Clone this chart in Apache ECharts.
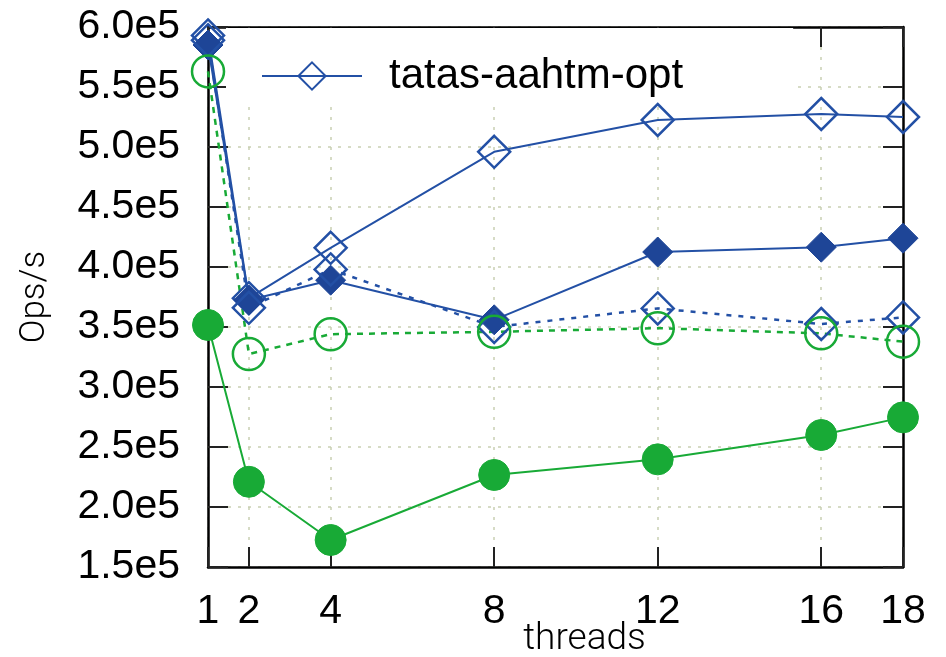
<!DOCTYPE html>
<html>
<head>
<meta charset="utf-8">
<script src="https://cdn.jsdelivr.net/npm/echarts@6/dist/echarts.min.js"></script>
<style>
  html, body { margin: 0; padding: 0; background: #fff; }
  #chart { width: 946px; height: 657px; }
</style>
</head>
<body>
<div id="chart"></div>
<script>
// x ticks (threads) and the five curves
const threads = [1, 2, 4, 8, 12, 16, 18];
const aahtmOpt = [593000, 374000, 416000, 496000, 522500, 527500, 525000];
const blueFilled = [585000, 372500, 389000, 356000, 412500, 416500, 424000];
const blueDashed = [589000, 366000, 398000, 350000, 365500, 352500, 358000];
const greenDashed = [563000, 327500, 344000, 346000, 349000, 344700, 337800];
const greenFilled = [351700, 221000, 172500, 226700, 239700, 260000, 274700];

const blue = '#2350a5';
const green = '#18aa36';
const font = '"Liberation Sans", Arial, sans-serif';
const thinFont = 'Roboto, "Noto Sans", sans-serif';

const pairs = (vals) => threads.map((t, i) => [t, vals[i]]);

const chart = echarts.init(document.getElementById('chart'));

const frameStyle = { lineStyle: { color: '#000', width: 2.5 } };
const tickStyle = { show: true, inside: true, length: 20, lineStyle: { color: '#222', width: 2 } };

function line(name, vals, color, opts) {
    return Object.assign({
        name: name,
        type: 'line',
        data: pairs(vals),
        clip: false,
        symbolSize: 32,
        lineStyle: { color: color, width: 2 },
        emphasis: { disabled: true }
    }, opts);
}

const option = {
    animation: false,
    grid: { left: 208, right: 43, top: 27, bottom: 90, outerBoundsMode: 'none', containLabel: false },
    legend: {
        data: ['tatas-aahtm-opt'],
        left: 226,
        top: 28,
        padding: [27, 110, 4, 35],
        backgroundColor: '#fff',
        itemWidth: 100,
        itemHeight: 34,
        textStyle: { fontSize: 42, fontFamily: font, color: '#000', padding: [0, 0, 0, 22] }
    },
    xAxis: [
        {
            type: 'value', position: 'bottom', min: 1, max: 18, z: 3,
            name: 'threads', nameLocation: 'middle', nameGap: 54, nameMoveOverlap: false,
            nameTextStyle: { fontSize: 37, fontFamily: thinFont, fontWeight: 300, color: '#000', padding: [0, 0, 0, 58] },
            axisLine: { show: true, ...frameStyle },
            axisTick: { ...tickStyle, customValues: threads },
            axisLabel: { customValues: threads, fontSize: 41, fontFamily: font, color: '#000', margin: 24 },
            splitLine: { show: false }
        },
        {
            type: 'value', position: 'top', min: 1, max: 18, z: 3,
            axisLine: { show: true, ...frameStyle },
            axisTick: { ...tickStyle, customValues: threads },
            axisLabel: { show: false },
            splitLine: { show: false }
        },
        {
            type: 'value', min: 1, max: 18, z: 0,
            axisLine: { show: false },
            axisTick: { show: false, customValues: threads },
            axisLabel: { show: false },
            splitLine: { show: true, lineStyle: { color: '#c9cfb2', width: 1.5, type: [3, 7] } }
        }
    ],
    yAxis: [
        {
            type: 'value', position: 'left', min: 150000, max: 600000, interval: 50000, z: 3,
            name: 'Ops/s', nameLocation: 'middle', nameGap: 155, nameMoveOverlap: false,
            nameTextStyle: { fontSize: 35, fontFamily: thinFont, fontWeight: 300, color: '#000' },
            axisLine: { show: true, ...frameStyle },
            axisTick: tickStyle,
            axisLabel: {
                fontSize: 41, fontFamily: font, color: '#000', margin: 28,
                formatter: (v) => (v / 1e5).toFixed(1) + 'e5'
            },
            splitLine: { show: false }
        },
        {
            type: 'value', position: 'right', min: 150000, max: 600000, interval: 50000, z: 3,
            axisLine: { show: true, ...frameStyle },
            axisTick: tickStyle,
            axisLabel: { show: false },
            splitLine: { show: false }
        },
        {
            type: 'value', min: 150000, max: 600000, interval: 50000, z: 0,
            axisLine: { show: false },
            axisTick: { show: false },
            axisLabel: { show: false },
            splitLine: { show: true, lineStyle: { color: '#c9cfb2', width: 1.5, type: [3, 7] } }
        }
    ],
    series: [
        line('tatas-aahtm-opt', aahtmOpt, blue, {
            symbol: 'diamond',
            itemStyle: { color: 'rgba(255,255,255,0)', borderColor: blue, borderWidth: 2.5 }
        }),
        line('filled-diamond', blueFilled, blue, {
            symbol: 'diamond', symbolSize: 30,
            itemStyle: { color: '#1e4597', borderColor: '#1e4597', borderWidth: 1 }
        }),
        line('dashed-diamond', blueDashed, blue, {
            symbol: 'diamond',
            lineStyle: { color: blue, width: 2.5, type: [5, 7] },
            itemStyle: { color: 'rgba(255,255,255,0)', borderColor: blue, borderWidth: 2.5 }
        }),
        line('dashed-circle', greenDashed, green, {
            symbol: 'circle', symbolSize: 32,
            lineStyle: { color: green, width: 2.5, type: [6, 6] },
            itemStyle: { color: 'rgba(255,255,255,0)', borderColor: green, borderWidth: 2.5 }
        }),
        line('filled-circle', greenFilled, green, {
            symbol: 'circle', symbolSize: 31,
            itemStyle: { color: green, borderColor: green, borderWidth: 1 }
        })
    ]
};

chart.setOption(option);
window.addEventListener('resize', function () { chart.resize(); });
</script>
</body>
</html>
